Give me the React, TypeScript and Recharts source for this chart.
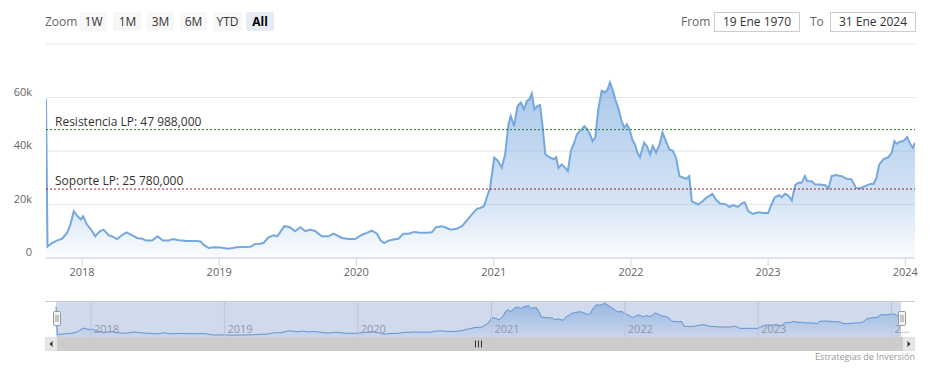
import React from "react";
import {
  AreaChart,
  Area,
  XAxis,
  YAxis,
  CartesianGrid,
  ReferenceLine,
} from "recharts";

// weekly-ish closes
const dates = [
  "2017-09-27", "2017-10-01", "2017-10-13", "2017-10-26", "2017-11-09", "2017-11-22", "2017-12-01", "2017-12-10",
  "2017-12-20", "2017-12-29", "2018-01-04", "2018-01-14", "2018-01-28", "2018-02-05", "2018-02-17", "2018-02-27",
  "2018-03-13", "2018-03-22", "2018-04-04", "2018-04-17", "2018-04-29", "2018-05-11", "2018-05-27", "2018-06-10",
  "2018-06-21", "2018-07-06", "2018-07-21", "2018-08-04", "2018-08-19", "2018-08-31", "2018-09-15", "2018-10-07",
  "2018-11-03", "2018-11-12", "2018-11-20", "2018-12-04", "2018-12-17", "2019-01-04", "2019-01-26", "2019-02-17",
  "2019-03-25", "2019-04-07", "2019-04-20", "2019-04-29", "2019-05-12", "2019-05-26", "2019-06-05", "2019-06-23",
  "2019-07-07", "2019-07-22", "2019-08-05", "2019-08-18", "2019-08-31", "2019-09-14", "2019-10-01", "2019-10-19",
  "2019-11-01", "2019-11-24", "2019-12-11", "2019-12-29", "2020-01-16", "2020-01-29", "2020-02-11", "2020-02-25",
  "2020-03-06", "2020-03-15", "2020-03-27", "2020-04-09", "2020-04-22", "2020-05-05", "2020-05-19", "2020-06-03",
  "2020-06-19", "2020-07-07", "2020-07-20", "2020-07-31", "2020-08-16", "2020-08-29", "2020-09-09", "2020-09-24",
  "2020-10-08", "2020-10-21", "2020-11-03", "2020-11-17", "2020-11-26", "2020-12-06", "2020-12-13", "2020-12-22",
  "2021-01-02", "2021-01-11", "2021-01-22", "2021-01-31", "2021-02-09", "2021-02-15", "2021-02-24", "2021-03-05",
  "2021-03-14", "2021-03-22", "2021-03-30", "2021-04-06", "2021-04-12", "2021-04-19", "2021-04-27", "2021-05-04",
  "2021-05-11", "2021-05-18", "2021-05-31", "2021-06-10", "2021-06-16", "2021-06-22", "2021-07-01", "2021-07-10",
  "2021-07-17", "2021-07-25", "2021-08-03", "2021-08-10", "2021-08-19", "2021-08-30", "2021-09-07", "2021-09-14",
  "2021-09-21", "2021-09-28", "2021-10-06", "2021-10-15", "2021-10-24", "2021-10-31", "2021-11-06", "2021-11-13",
  "2021-11-20", "2021-11-28", "2021-12-07", "2021-12-14", "2021-12-21", "2021-12-28", "2022-01-06", "2022-01-12",
  "2022-01-18", "2022-01-25", "2022-02-05", "2022-02-12", "2022-02-21", "2022-02-28", "2022-03-09", "2022-03-18",
  "2022-03-26", "2022-04-04", "2022-04-13", "2022-04-22", "2022-05-01", "2022-05-10", "2022-05-21", "2022-05-29",
  "2022-06-05", "2022-06-12", "2022-06-21", "2022-06-29", "2022-07-08", "2022-07-22", "2022-08-06", "2022-08-15",
  "2022-08-26", "2022-09-08", "2022-09-20", "2022-09-30", "2022-10-12", "2022-10-25", "2022-10-31", "2022-11-09",
  "2022-11-21", "2022-12-06", "2022-12-19", "2023-01-01", "2023-01-10", "2023-01-19", "2023-01-31", "2023-02-06",
  "2023-02-15", "2023-02-24", "2023-03-05", "2023-03-14", "2023-03-22", "2023-03-31", "2023-04-09", "2023-04-15",
  "2023-04-27", "2023-05-06", "2023-05-19", "2023-06-02", "2023-06-11", "2023-06-19", "2023-07-01", "2023-07-16",
  "2023-07-29", "2023-08-11", "2023-08-23", "2023-09-03", "2023-09-16", "2023-09-30", "2023-10-08", "2023-10-16",
  "2023-10-24", "2023-11-04", "2023-11-17", "2023-11-26", "2023-12-03", "2023-12-09", "2023-12-18", "2023-12-27",
  "2024-01-06", "2024-01-15", "2024-01-21", "2024-01-27",
];

const prices = [
  59300, 4300, 5600, 6500, 7200, 9400, 12500, 17500,
  15600, 14400, 15600, 12500, 10000, 8100, 10000, 10600,
  8500, 8100, 7100, 8500, 9600, 8700, 7500, 7200,
  6500, 6500, 8100, 6500, 6500, 7100, 6600, 6400,
  6400, 6200, 5000, 3750, 4000, 3900, 3500, 4000,
  4200, 5200, 5300, 5600, 7700, 8500, 8100, 11900,
  11600, 10000, 11500, 10000, 10600, 10000, 8100, 8100,
  9100, 7500, 7100, 7100, 8700, 9400, 10200, 9100,
  6500, 5600, 6500, 6900, 7200, 9100, 9100, 9750,
  9400, 9400, 9600, 11500, 11900, 11200, 10600, 10900,
  11900, 14000, 16200, 18400, 18700, 19400, 22500, 26200,
  37500, 36500, 33700, 38700, 50000, 53100, 49300, 56800,
  58100, 55600, 58700, 59400, 61500, 55600, 56800, 57200,
  48700, 38700, 37500, 36900, 37700, 33700, 35000, 33700,
  32500, 40000, 43100, 46200, 47500, 49300, 48100, 46200,
  43700, 45000, 55600, 62500, 61900, 63100, 65600, 63100,
  59400, 56200, 51200, 48700, 50000, 48100, 43700, 42500,
  39400, 37700, 43100, 41900, 38700, 41900, 39400, 42500,
  46900, 43700, 40600, 40200, 37500, 30600, 30000, 29600,
  30600, 21200, 20600, 20000, 20900, 22700, 24000, 21900,
  20400, 20200, 19100, 19800, 19100, 20600, 20800, 17500,
  16500, 17100, 16800, 16800, 20000, 22700, 23500, 22700,
  24000, 23300, 21500, 27200, 28100, 28100, 30600, 28800,
  28700, 27500, 27500, 27200, 26000, 30600, 31000, 30600,
  29600, 29400, 26200, 26000, 26900, 27700, 27700, 29700,
  35000, 36900, 37700, 39400, 43700, 42700, 43500, 43700,
  45200, 42500, 41200, 43100,
];

const yearTicks = [2018, 2019, 2020, 2021, 2022, 2023, 2024];
const yTicks = [0, 20000, 40000, 60000, 80000];
const resistance = 47988;
const support = 25780;
const resistanceText = "Resistencia LP: 47 988,000";
const supportText = "Soporte LP: 25 780,000";
const zoomButtons = ["1W", "1M", "3M", "6M", "YTD", "All"];
const fromText = "19 Ene 1970";
const toText = "31 Ene 2024";

const FONT = "'Open Sans', 'DejaVu Sans', sans-serif";

const toTime = (d: string) => {
  const [y, m, day] = d.split("-").map(Number);
  return Date.UTC(y, m - 1, day);
};

const data = dates.map((d, i) => ({ t: toTime(d), price: prices[i] }));
const tickTimes = yearTicks.map((y) => Date.UTC(y, 0, 1));
const domainX = [data[0].t, data[data.length - 1].t];

const YTick = (props: any) => {
  const { x, y, payload } = props;
  if (payload.value >= 80000) return <g />;
  return (
    <text x={x} y={y - 2} textAnchor="end" fill="#666" fontSize={11} fontFamily={FONT}>
      {payload.value === 0 ? "0" : `${payload.value / 1000}k`}
    </text>
  );
};

// year label inside the navigator, truncated near the right edge
const NavLabel = (props: any) => {
  const { viewBox, text } = props;
  return (
    <text x={viewBox.x + 3} y={viewBox.y + 32} fill="#8e96a8" fontSize={11} fontFamily={FONT}>
      {viewBox.x > 880 ? "2..." : text}
    </text>
  );
};

const LineLabel = (props: any) => {
  const { viewBox, text } = props;
  return (
    <text x={viewBox.x + 9} y={viewBox.y - 4} fill="#333" fontSize={12} fontFamily={FONT}>
      {text}
    </text>
  );
};

const btnLeft = [80, 113, 147, 180, 213, 246];
const btnWidth = [27, 29, 27, 27, 29, 28];

export default function App() {
  return (
    <div
      style={{
        position: "absolute",
        left: 0,
        top: 0,
        width: 938,
        height: 368,
        background: "#fff",
        fontFamily: FONT,
        overflow: "hidden",
      }}
    >
      {/* range selector */}
      <div style={{ position: "absolute", left: 45, top: 12, lineHeight: "19px", fontSize: 12, color: "#666" }}>
        Zoom
      </div>
      {zoomButtons.map((b, i) => (
        <div
          key={b}
          style={{
            position: "absolute",
            left: btnLeft[i],
            top: 12,
            width: btnWidth[i],
            height: 19,
            lineHeight: "19px",
            textAlign: "center",
            fontSize: 12,
            borderRadius: 2,
            background: b === "All" ? "#e6ebf5" : "#f7f7f7",
            color: b === "All" ? "#000" : "#333",
            fontWeight: b === "All" ? 700 : 400,
          }}
        >
          {b}
        </div>
      ))}
      <div style={{ position: "absolute", left: 681, top: 12, lineHeight: "19px", fontSize: 12, color: "#666" }}>
        From
      </div>
      <div
        style={{
          position: "absolute",
          left: 714,
          top: 12,
          width: 84,
          height: 18,
          lineHeight: "18px",
          border: "1px solid #ccc",
          textAlign: "center",
          fontSize: 12,
          color: "#333",
        }}
      >
        {fromText}
      </div>
      <div style={{ position: "absolute", left: 810, top: 12, lineHeight: "19px", fontSize: 12, color: "#666" }}>
        To
      </div>
      <div
        style={{
          position: "absolute",
          left: 830,
          top: 12,
          width: 84,
          height: 18,
          lineHeight: "18px",
          border: "1px solid #ccc",
          textAlign: "center",
          fontSize: 12,
          color: "#333",
        }}
      >
        {toText}
      </div>

      {/* main chart */}
      <div style={{ position: "absolute", left: 0, top: 0 }}>
        <AreaChart width={938} height={290} data={data} margin={{ top: 44, right: 23, bottom: 2, left: 0 }}>
          <defs>
            <linearGradient id="mainFill" x1="0" y1="0" x2="0" y2="1">
              <stop offset="0%" stopColor="#6a9fdb" stopOpacity={0.95} />
              <stop offset="70%" stopColor="#6a9fdb" stopOpacity={0.45} />
              <stop offset="100%" stopColor="#6a9fdb" stopOpacity={0.04} />
            </linearGradient>
          </defs>
          <CartesianGrid vertical={false} stroke="#e6e6e6" />
          <XAxis
            dataKey="t"
            type="number"
            domain={domainX}
            ticks={tickTimes}
            tickFormatter={(t) => String(new Date(t).getUTCFullYear())}
            height={30}
            tickSize={8}
            tickMargin={2}
            stroke="#ccd6eb"
            tick={{ fill: "#666", fontSize: 11, fontFamily: FONT }}
            allowDataOverflow
          />
          <YAxis
            domain={[0, 80000]}
            ticks={yTicks}
            width={46}
            axisLine={false}
            tickLine={false}
            tickSize={0}
            tickMargin={14}
            tick={<YTick />}
          />
          <Area
            type="linear"
            dataKey="price"
            stroke="#74a8de"
            strokeWidth={2}
            fill="url(#mainFill)"
            dot={false}
            activeDot={false}
            isAnimationActive={false}
          />
          <ReferenceLine
            y={resistance}
            stroke="#237a23"
            strokeDasharray="2 2"
            label={<LineLabel text={resistanceText} />}
          />
          <ReferenceLine
            y={support}
            stroke="#9b2525"
            strokeDasharray="2 2"
            label={<LineLabel text={supportText} />}
          />
        </AreaChart>
      </div>

      {/* navigator */}
      <div
        style={{
          position: "absolute",
          left: 56,
          top: 301,
          width: 845,
          height: 36,
          background: "rgba(102,133,194,0.3)",
        }}
      />
      <div style={{ position: "absolute", left: 0, top: 301 }}>
        <AreaChart width={938} height={36} data={data} margin={{ top: 0, right: 37, bottom: 0, left: 56 }}>
          <defs>
            <linearGradient id="navFill" x1="0" y1="0" x2="0" y2="1">
              <stop offset="0%" stopColor="#5b93d6" stopOpacity={0.8} />
              <stop offset="100%" stopColor="#5b93d6" stopOpacity={0.1} />
            </linearGradient>
          </defs>
          <XAxis dataKey="t" type="number" domain={domainX} hide />
          <YAxis hide domain={[0, 70000]} />
          {tickTimes.map((t, i) => (
            <ReferenceLine
              key={t}
              x={t}
              stroke="#bcc5d8"
              label={<NavLabel text={String(yearTicks[i])} />}
            />
          ))}
          <Area
            type="linear"
            dataKey="price"
            stroke="#5e93d3"
            strokeWidth={1}
            fill="url(#navFill)"
            dot={false}
            activeDot={false}
            isAnimationActive={false}
          />
        </AreaChart>
      </div>

      {/* navigator handles, scrollbar, credits */}
      <svg width={938} height={368} style={{ position: "absolute", left: 0, top: 0, pointerEvents: "none" }}>
        <line x1={45} x2={915} y1={301.5} y2={301.5} stroke="#cccccc" />
        {[53.5, 898.5].map((hx) => (
          <g key={hx}>
            <rect x={hx} y={311.5} width={7} height={14} rx={1} fill="#f2f2f2" stroke="#999" />
            <line x1={hx + 2.5} x2={hx + 2.5} y1={315} y2={322} stroke="#999" />
            <line x1={hx + 4.5} x2={hx + 4.5} y1={315} y2={322} stroke="#999" />
          </g>
        ))}
        <rect x={57} y={337} width={846} height={14} fill="#cccccc" />
        <rect x={45} y={337} width={12} height={14} fill="#e6e6e6" />
        <rect x={903} y={337} width={12} height={14} fill="#e6e6e6" />
        <path d="M52.5 341 L49.5 344 L52.5 347 Z" fill="#333" />
        <path d="M907.5 341 L910.5 344 L907.5 347 Z" fill="#333" />
        {[-3, 0, 3].map((dx) => (
          <line key={dx} x1={478.5 + dx} x2={478.5 + dx} y1={340.5} y2={347.5} stroke="#333" />
        ))}
        <text x={915} y={360} textAnchor="end" fontSize={9} fill="#999" fontFamily={FONT}>
          Estrategias de Inversión
        </text>
      </svg>
    </div>
  );
}
